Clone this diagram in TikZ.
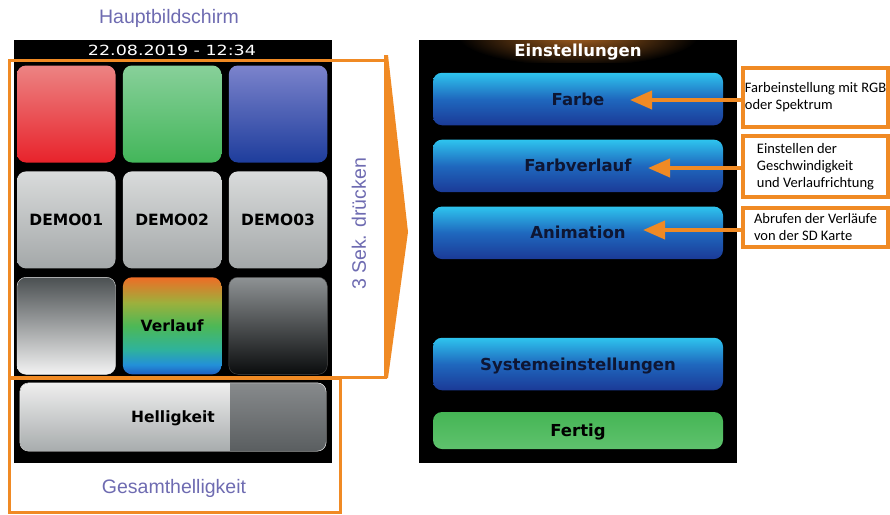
\documentclass[tikz,border=0pt]{standalone}
\usepackage{fontspec}
\setmainfont{Liberation Sans}
\newfontfamily\screenfont{DejaVu Sans}
\newfontfamily\notefont{Carlito}
\usepackage{xcolor}
\usepackage{graphicx}
\usepackage{tikz}
\usetikzlibrary{arrows.meta,positioning}
\definecolor{Orange}{HTML}{F08A24}
\definecolor{Lilac}{HTML}{6E6BB1}
\definecolor{RedTop}{HTML}{EC8383}
\definecolor{RedBot}{HTML}{E8232B}
\definecolor{GreenTop}{HTML}{88D09A}
\definecolor{GreenBot}{HTML}{43B65A}
\definecolor{BlueTop}{HTML}{7B83CC}
\definecolor{BlueBot}{HTML}{1E3D9C}
\definecolor{GrayTop}{HTML}{D9DBDB}
\definecolor{GrayBot}{HTML}{A4A8A9}
\definecolor{Smoke}{HTML}{4B5052}
\definecolor{Snow}{HTML}{F3F3F3}
\definecolor{Steel}{HTML}{8E9294}
\definecolor{Coal}{HTML}{0A0C0D}
\definecolor{SlideTop}{HTML}{EEEEEE}
\definecolor{SlideBot}{HTML}{A8ACAD}
\definecolor{KnobTop}{HTML}{878A8C}
\definecolor{KnobBot}{HTML}{5A5E60}
\definecolor{BtnTop}{HTML}{2EC4EE}
\definecolor{BtnMid}{HTML}{1F68BE}
\definecolor{BtnBot}{HTML}{1B3A97}
\definecolor{BtnText}{HTML}{0E1633}
\definecolor{DoneTop}{HTML}{45B555}
\definecolor{DoneBot}{HTML}{5FC26D}
\definecolor{Glow}{HTML}{A5601F}
\definecolor{RbBlue}{HTML}{1F5EC2}
\definecolor{RbCyan}{HTML}{2390D8}
\definecolor{RbTeal}{HTML}{2FB39A}
\definecolor{RbGreen}{HTML}{4DB856}
\definecolor{RbOlive}{HTML}{9DB03C}
\definecolor{RbOrange}{HTML}{EE6D26}
\pgfdeclareverticalshading{rainbow}{100bp}{color(0bp)=(RbBlue); color(25bp)=(RbBlue);
  color(30bp)=(RbCyan); color(38bp)=(RbTeal); color(50bp)=(RbGreen);
  color(62bp)=(RbOlive); color(75bp)=(RbOrange); color(100bp)=(RbOrange)}
\tikzset{
  tile/.style={rounded corners=9pt,minimum width=98.5pt,minimum height=97pt,inner sep=0pt,
              text=black,font=\screenfont\bfseries\fontsize{15.5}{16}\selectfont,
              text height=11.5pt,text depth=0pt},
  button/.style={rounded corners=9pt,minimum width=290pt,minimum height=52.5pt,inner sep=0pt,
              top color=BtnTop,bottom color=BtnBot,middle color=BtnMid,text=BtnText,
              font=\screenfont\bfseries\fontsize{16.5}{17}\selectfont,
              text height=12pt,text depth=0pt},
  caption/.style={text=Lilac,font=\fontsize{19.5}{20}\selectfont,anchor=base},
  note/.style={draw=Orange,line width=4pt,fill=white,align=left,inner sep=0pt,
              minimum width=145pt,font=\notefont\fontsize{14.5}{17}\selectfont},
  frame/.style={draw=Orange,line width=3pt},
  pointer/.style={draw=Orange,line width=4pt,-{Triangle[length=22pt,width=18pt]}}
}

\begin{document}
\begin{tikzpicture}[x=1pt,y=-1pt]
  \useasboundingbox (0,0) rectangle (890,514);
  % main screen
  \fill[black] (14,40) rectangle (332,463);
  \node[caption] (main) at (169,23) {Hauptbildschirm};
  \node[anchor=base,text=white,font=\screenfont\fontsize{14}{14}\selectfont] (date) at (172,55)
    {\scalebox{1.25}[1]{22.08.2019 - 12:34}};
  \node[tile,top color=RedTop,bottom color=RedBot] (red) at (66.25,114) {};
  \node[tile,top color=GreenTop,bottom color=GreenBot,right=7pt of red] (green) {};
  \node[tile,top color=BlueTop,bottom color=BlueBot,right=7pt of green] (blue) {};
  \node[tile,top color=GrayTop,bottom color=GrayBot,below=8.5pt of red] (demo1) {DEMO01};
  \node[tile,top color=GrayTop,bottom color=GrayBot,below=8.5pt of green] (demo2) {DEMO02};
  \node[tile,top color=GrayTop,bottom color=GrayBot,below=8.5pt of blue] (demo3) {DEMO03};
  \node[tile,top color=Smoke,bottom color=Snow,draw=white!85!gray,below=8.5pt of demo1] (light) {};
  \node[tile,shading=rainbow,below=8.5pt of demo2] (rainbow) {Verlauf};
  \node[tile,top color=Steel,bottom color=Coal,draw=gray!60!black,below=8.5pt of demo3] (dark) {};
  \node[tile,minimum width=306pt,minimum height=68pt,top color=SlideTop,bottom color=SlideBot]
    (slider) at (173,417) {Helligkeit};
  \begin{scope}
    \clip[rounded corners=9pt] (slider.north west) rectangle (slider.south east);
    \shade[top color=KnobTop,bottom color=KnobBot] (230,383) rectangle (slider.south east);
  \end{scope}
  \draw[white,rounded corners=9pt] (slider.north west) rectangle (slider.south east);
  \node[caption] (total) at (174,493) {Gesamthelligkeit};
  \node[caption,rotate=90,anchor=center] (hold) at (359,224) {3 Sek. drücken};
  \draw[frame] (9,60) rectangle (385,377);
  \draw[frame] (9,378) rectangle (340,512);
  \fill[Orange] (384,55) -- (388,55) -- (408,232) -- (388,378) -- (384,378) -- cycle;
  % settings screen
  \fill[black] (419,40) rectangle (737,463);
  \begin{scope}
    \clip (419,40) rectangle (737,62);
    \shade[inner color=Glow,outer color=black] (578,36) ellipse (120 and 30);
  \end{scope}
  \node[anchor=base,text=white,font=\screenfont\bfseries\fontsize{16.5}{17}\selectfont]
    (header) at (578,56) {Einstellungen};
  \node[button] (farbe) at (578,99) {Farbe};
  \node[button,below=14pt of farbe] (farbverlauf) {Farbverlauf};
  \node[button,below=14pt of farbverlauf] (animation) {Animation};
  \node[button] (system) at (578,364) {Systemeinstellungen};
  \node[button,top color=DoneTop,bottom color=DoneBot,minimum height=37pt,text=black]
    (fertig) at (578,430.5) {Fertig};
  \node[note,minimum height=59pt] (rgbnote) at (815.5,97.5) {Farbeinstellung mit RGB\\oder Spektrum};
  \node[note,minimum height=61pt] (speednote) at (815.5,166.5) {Einstellen der\\Geschwindigkeit\\und Verlaufrichtung};
  \node[note,minimum height=39pt] (sdnote) at (815.5,227.5) {Abrufen der Verläufe\\von der SD Karte};
  \coordinate (farbetip) at (630,100);
  \coordinate (verlauftip) at (648,168);
  \coordinate (sdtip) at (643,230);
  \draw[pointer] (rgbnote.west |- farbetip) -- (farbetip);
  \draw[pointer] (speednote.west |- verlauftip) -- (verlauftip);
  \draw[pointer] (sdnote.west |- sdtip) -- (sdtip);
\end{tikzpicture}
\end{document}
